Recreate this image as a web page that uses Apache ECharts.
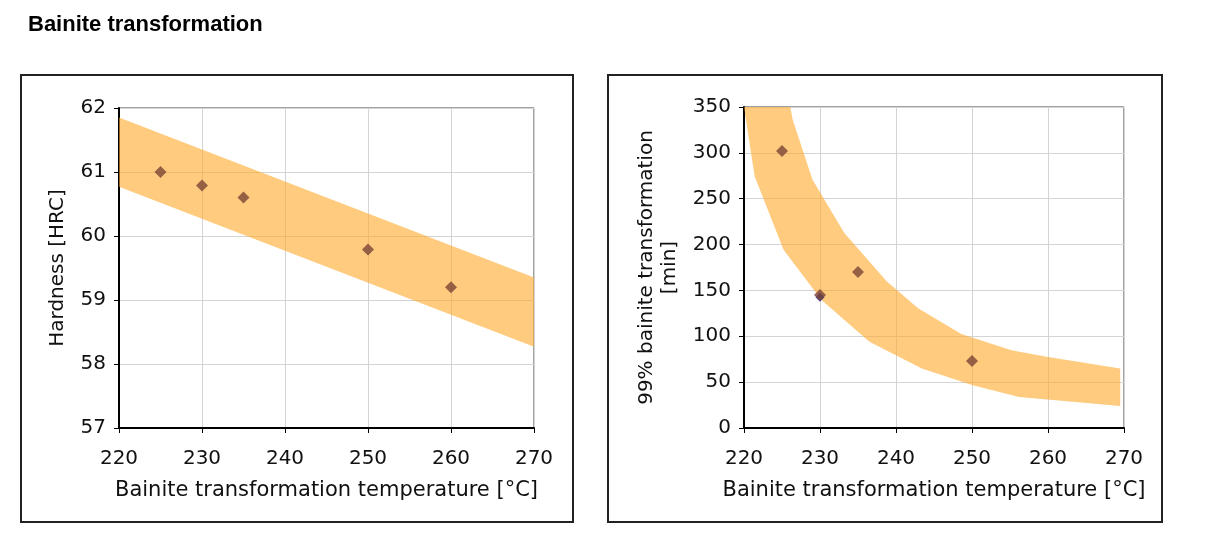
<!DOCTYPE html>
<html>
<head>
<meta charset="utf-8">
<script src="https://cdn.jsdelivr.net/npm/echarts@6/dist/echarts.min.js"></script>
<style>
  html, body {margin:0; padding:0; background:#fff;}
  #main {width:1209px; height:535px;}
</style>
</head>
<body>
<div id="main"></div>
<script type="text/javascript">
// hardness vs temperature
var hardTemp = [225, 230, 235, 250, 260];
var hardValue = [61.0, 60.79, 60.6, 59.79, 59.2];
var hardBandX = [220, 270];
var hardBandUpper = [61.85, 59.35];
var hardBandLower = [60.77, 58.27];

// 99% transformation time vs temperature
var timeTemp = [225, 230, 235, 250];
var timeValue = [302, 145, 170, 73];
var timeExtraTemp = [230];
var timeExtraValue = [142.5];
var timeUpperX = [220, 226.1, 226.4, 229.0, 233.2, 238.8, 242.9, 248.6, 255.2, 259.8, 269.5];
var timeUpperY = [350, 350, 336.5, 270.9, 212.6, 159.7, 130.5, 102.4, 84.9, 77.6, 64.9];
var timeLowerX = [220, 221.4, 225.2, 230.2, 236.5, 243.4, 250.1, 256.2, 269.5];
var timeLowerY = [350, 274.5, 194.3, 139.6, 94.1, 64.9, 46.7, 33.9, 24.1];

var font = 'DejaVu Sans';
var bandColor = 'rgba(255,168,40,0.6)';
var dotColor = '#7a4536';

function bandItem(ux, uy, lx, ly) {
  return function (params, api) {
    var pts = [];
    for (var i = 0; i < ux.length; i++) pts.push(api.coord([ux[i], uy[i]]));
    for (var j = lx.length - 1; j >= 0; j--) pts.push(api.coord([lx[j], ly[j]]));
    return {type: 'polygon', shape: {points: pts}, style: {fill: bandColor}};
  };
}

function xAxisCfg(idx) {
  return {
    type: 'value', gridIndex: idx, min: 220, max: 270, interval: 10,
    name: 'Bainite transformation temperature [°C]', nameLocation: 'middle', nameGap: 52,
    nameTextStyle: {fontFamily: font, fontSize: 21, color: '#111'},
    axisLine: {show: true, onZero: false, lineStyle: {color: '#000', width: 2}},
    axisTick: {show: true, length: 5, lineStyle: {color: '#000'}},
    axisLabel: {fontFamily: font, fontSize: 20, color: '#111', margin: 21},
    splitLine: {show: true, lineStyle: {color: '#d4d4d4', width: 1}}
  };
}

function yAxisCfg(idx, min, max, step, name, gap) {
  return {
    type: 'value', gridIndex: idx, min: min, max: max, interval: step,
    name: name, nameLocation: 'middle', nameGap: gap, nameRotate: 90,
    nameTextStyle: {fontFamily: font, fontSize: 20, color: '#111', lineHeight: 23},
    axisLine: {show: true, onZero: false, lineStyle: {color: '#000', width: 2}},
    axisTick: {show: true, length: 5, lineStyle: {color: '#000'}},
    axisLabel: {fontFamily: font, fontSize: 20, color: '#111', margin: 13},
    splitLine: {show: true, lineStyle: {color: '#d4d4d4', width: 1}}
  };
}

function pairs(xs, ys) {
  return xs.map(function (x, i) { return [x, ys[i]]; });
}

var chart = echarts.init(document.getElementById('main'));
chart.setOption({
  animation: false,
  backgroundColor: '#fff',
  title: {
    text: 'Bainite transformation', left: 23, top: 9,
    textStyle: {fontFamily: 'Liberation Sans', fontSize: 22, fontWeight: 'bold', color: '#000'}
  },
  graphic: [
    {type: 'rect', shape: {x: 21, y: 75, width: 552, height: 447}, style: {fill: 'none', stroke: '#222', lineWidth: 2}},
    {type: 'rect', shape: {x: 608, y: 75, width: 554, height: 447}, style: {fill: 'none', stroke: '#222', lineWidth: 2}}
  ],
  grid: [
    {left: 119, top: 108, width: 415, height: 320, show: true, borderColor: '#444', borderWidth: 1},
    {left: 744, top: 107, width: 380, height: 321, show: true, borderColor: '#444', borderWidth: 1}
  ],
  xAxis: [xAxisCfg(0), xAxisCfg(1)],
  yAxis: [
    yAxisCfg(0, 57, 62, 1, 'Hardness [HRC]', 50),
    yAxisCfg(1, 0, 350, 50, '99% bainite transformation\n[min]', 63)
  ],
  series: [
    {
      type: 'custom', xAxisIndex: 0, yAxisIndex: 0, clip: true,
      data: [[hardBandX[0], hardBandUpper[0]]],
      renderItem: bandItem(hardBandX, hardBandUpper, hardBandX, hardBandLower),
      z: 1
    },
    {
      type: 'scatter', xAxisIndex: 0, yAxisIndex: 0,
      data: pairs(hardTemp, hardValue),
      symbol: 'diamond', symbolSize: 12,
      itemStyle: {color: dotColor}, z: 3
    },
    {
      type: 'custom', xAxisIndex: 1, yAxisIndex: 1, clip: true,
      data: [[timeUpperX[0], timeUpperY[0]]],
      renderItem: bandItem(timeUpperX, timeUpperY, timeLowerX, timeLowerY),
      z: 1
    },
    {
      type: 'scatter', xAxisIndex: 1, yAxisIndex: 1,
      data: pairs(timeExtraTemp, timeExtraValue),
      symbol: 'diamond', symbolSize: 9,
      itemStyle: {color: '#1a1a8a'}, z: 2
    },
    {
      type: 'scatter', xAxisIndex: 1, yAxisIndex: 1,
      data: pairs(timeTemp, timeValue),
      symbol: 'diamond', symbolSize: 12,
      itemStyle: {color: dotColor}, z: 3
    }
  ]
});
</script>
</body>
</html>
